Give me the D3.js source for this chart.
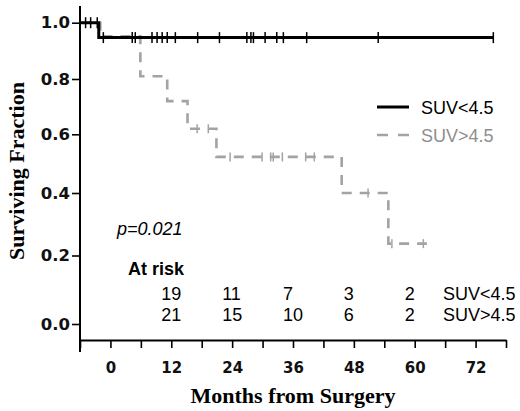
<!DOCTYPE html>
<html>
<head>
<meta charset="utf-8">
<script src="https://cdn.jsdelivr.net/npm/d3@7"></script>
<style>
  body { margin: 0; background: #fff; }
  svg { display: block; }
</style>
</head>
<body>
<svg id="chart" width="520" height="411"></svg>
<script>
// KM curve for SUV<4.5 (months, surviving fraction)
const lowTimes = [-6, -2.3, 75.5];
const lowSurv = [1.0, 0.947, 0.947];
const lowCensor = [-4.9, -3.9, -2.6, -1.4, 4.3, 4.9, 8.2, 9.2, 10.2, 11.2, 12.8, 17.2, 21.5,
  26.9, 27.7, 28.2, 30.5, 32.8, 34.1, 38.7, 52.8, 75.5];

// KM curve for SUV>4.5
const highTimes = [-6, -2.0, 5.9, 11.2, 15.2, 20.9, 45.6, 54.8, 62.4];
const highSurv = [1.0, 0.952, 0.81, 0.72, 0.62, 0.523, 0.40, 0.238, 0.238];
const highCensor = [17.1, 19.3, 23.6, 29.9, 31.6, 32.1, 33.9, 38.5, 40.2, 50.8, 55.5, 61.7];

// at-risk table
const riskMonths = [12, 24, 36, 48, 60];
const riskLow = [19, 11, 7, 3, 2];
const riskHigh = [21, 15, 10, 6, 2];
const groups = ['SUV<4.5', 'SUV>4.5'];

const xTicks = d3.range(-6, 79, 6);
const yTicks = [0, 0.2, 0.4, 0.6, 0.8, 1.0];

const svg = d3.select('#chart');
const x = d3.scaleLinear().domain([-6, 78]).range([80, 506]);
// the printed axis is slightly stretched towards the bottom
const y = d3.scaleLinear().domain(yTicks).range([324, 255.5, 193, 134.3, 79, 22.7]);

const black = '#000';
const grey = '#a3a3a3';

function stepAt(times, surv, t) {
  let s = surv[0];
  times.forEach((tt, i) => { if (tt <= t) s = surv[i]; });
  return s;
}

const line = d3.line()
  .x(d => x(d[0]))
  .y(d => y(d[1]))
  .curve(d3.curveStepAfter);

// axes
const xAxis = svg.append('g')
  .attr('transform', 'translate(0,340)')
  .call(d3.axisBottom(x).tickValues(xTicks).tickSize(8).tickSizeOuter(0).tickPadding(14)
    .tickFormat(d => d >= 0 && d % 12 === 0 ? d : ''));
xAxis.select('.domain').attr('stroke-width', 2);
xAxis.selectAll('.tick line').attr('stroke-width', 1.6);
xAxis.selectAll('text')
  .attr('font-family', 'DejaVu Sans')
  .attr('font-weight', 'bold')
  .attr('font-size', 15)
  .attr('fill', '#111');

const yAxis = svg.append('g')
  .attr('transform', 'translate(80,0)')
  .call(d3.axisLeft(y).tickValues(yTicks).tickSize(8).tickPadding(2).tickFormat(d3.format('.1f')));
yAxis.select('.domain').remove();
yAxis.selectAll('.tick line').attr('stroke-width', 1.6);
yAxis.selectAll('text')
  .attr('font-family', 'DejaVu Sans')
  .attr('font-weight', 'bold')
  .attr('font-size', 16.5)
  .attr('fill', '#111');

svg.append('line')
  .attr('x1', 80).attr('x2', 80)
  .attr('y1', 6).attr('y2', 352)
  .attr('stroke', black).attr('stroke-width', 2);

// curves
svg.append('path')
  .datum(highTimes.map((t, i) => [t, highSurv[i]]))
  .attr('d', line)
  .attr('fill', 'none')
  .attr('stroke', grey)
  .attr('stroke-width', 2.6)
  .attr('stroke-dasharray', '10,8');

svg.selectAll('.cens-high')
  .data(highCensor)
  .join('line')
  .attr('class', 'cens-high')
  .attr('x1', d => x(d)).attr('x2', d => x(d))
  .attr('y1', d => y(stepAt(highTimes, highSurv, d)) - 4.5)
  .attr('y2', d => y(stepAt(highTimes, highSurv, d)) + 4.5)
  .attr('stroke', grey).attr('stroke-width', 1.5);

svg.append('path')
  .datum(lowTimes.map((t, i) => [t, lowSurv[i]]))
  .attr('d', line)
  .attr('fill', 'none')
  .attr('stroke', black)
  .attr('stroke-width', 3);

svg.selectAll('.cens-low')
  .data(lowCensor)
  .join('line')
  .attr('class', 'cens-low')
  .attr('x1', d => x(d)).attr('x2', d => x(d))
  .attr('y1', d => y(stepAt(lowTimes, lowSurv, d)) - 5.5)
  .attr('y2', d => y(stepAt(lowTimes, lowSurv, d)) + 5.5)
  .attr('stroke', black).attr('stroke-width', 1.5);

// legend
const legend = svg.append('g').attr('font-family', 'Liberation Sans, Arial, sans-serif').attr('font-size', 18);
[[black, null, 107], [grey, '11,10', 135]].forEach(([c, dash, ly], i) => {
  legend.append('line')
    .attr('x1', 377).attr('x2', 409).attr('y1', ly).attr('y2', ly)
    .attr('stroke', c).attr('stroke-width', i === 0 ? 3 : 2.6)
    .attr('stroke-dasharray', dash);
  legend.append('text')
    .attr('x', 421).attr('y', ly + 7)
    .attr('fill', i === 0 ? '#000' : '#8e8e8e')
    .text(groups[i]);
});

// p value
svg.append('text')
  .attr('x', 117).attr('y', 235)
  .attr('font-family', 'Liberation Sans, Arial, sans-serif')
  .attr('font-style', 'italic')
  .attr('font-size', 18)
  .text('p=0.021');

// at-risk table
const table = svg.append('g').attr('font-family', 'Liberation Sans, Arial, sans-serif').attr('font-size', 18);
table.append('text')
  .attr('x', 128).attr('y', 275)
  .attr('font-weight', 'bold')
  .text('At risk');
[riskLow, riskHigh].forEach((row, r) => {
  const ry = 300 + r * 21;
  table.selectAll('.row' + r)
    .data(row)
    .join('text')
    .attr('class', 'row' + r)
    .attr('x', (d, i) => x(riskMonths[i]) - 10)
    .attr('y', ry)
    .text(d => d);
  table.append('text')
    .attr('x', 443).attr('y', ry)
    .text(groups[r]);
});

// axis titles
svg.append('text')
  .attr('x', x(36)).attr('y', 403)
  .attr('text-anchor', 'middle')
  .attr('font-family', 'Liberation Serif, Times New Roman, serif')
  .attr('font-weight', 'bold')
  .attr('font-size', 22)
  .text('Months from Surgery');

svg.append('text')
  .attr('transform', 'translate(24,171) rotate(-90)')
  .attr('text-anchor', 'middle')
  .attr('font-family', 'Liberation Serif, Times New Roman, serif')
  .attr('font-weight', 'bold')
  .attr('font-size', 22)
  .text('Surviving Fraction');
</script>
</body>
</html>
